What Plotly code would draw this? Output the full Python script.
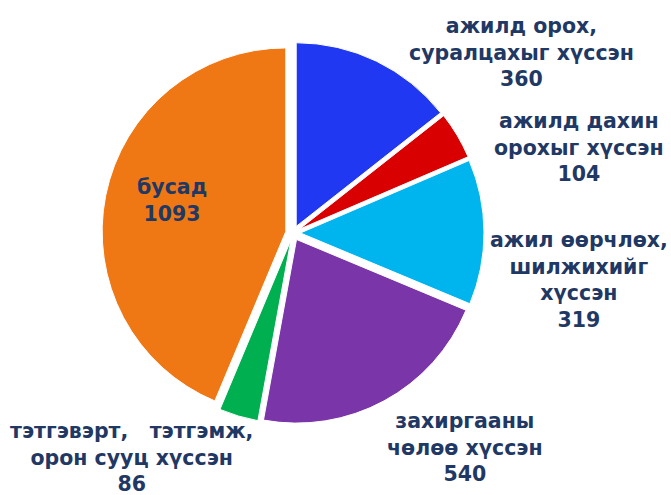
import plotly.graph_objects as go

categories = [
    "ажилд орох,<br>суралцахыг хүссэн",
    "ажилд дахин<br>орохыг хүссэн",
    "ажил өөрчлөх,<br>шилжихийг<br>хүссэн",
    "захиргааны<br>чөлөө хүссэн",
    "тэтгэвэрт,\u00a0\u00a0\u00a0тэтгэмж,<br>орон сууц хүссэн",
    "бусад",
]
values = [360, 104, 319, 540, 86, 1093]
colors = ["#2138F2", "#D80000", "#00B4EE", "#7A36A8", "#00B050", "#F07814"]

# label centre positions in pixels (x from left, y from top)
label_pos = [(521, 52), (579, 147), (579, 280), (465, 447), (131, 457), (172, 201)]

W, H = 671, 495
TEXT = "#1F3864"

fig = go.Figure()
fig.add_trace(go.Pie(
    labels=categories,
    values=values,
    sort=False,
    direction="clockwise",
    rotation=0,
    pull=[0.04] * len(values),
    marker=dict(colors=colors, line=dict(color="white", width=1)),
    textinfo="none",
    hoverinfo="label+value",
    showlegend=False,
    domain=dict(x=[102 / W, 484 / W], y=[1 - 424 / H, 1 - 42 / H]),
))

for lab, val, (px, py) in zip(categories, values, label_pos):
    fig.add_annotation(
        x=px / W, y=1 - py / H, xref="paper", yref="paper",
        text=f"<b>{lab}<br>{val}</b>",
        showarrow=False, xanchor="center", yanchor="middle",
        font=dict(family="DejaVu Sans", size=20.5, color=TEXT),
        align="center",
    )

fig.update_layout(
    width=W, height=H,
    margin=dict(l=0, r=0, t=0, b=0),
    paper_bgcolor="white", plot_bgcolor="white",
)
fig.write_html(
    "out.html",
    config={"displayModeBar": False},
    post_script="document.body.style.margin='0';document.body.style.overflow='hidden';",
)
